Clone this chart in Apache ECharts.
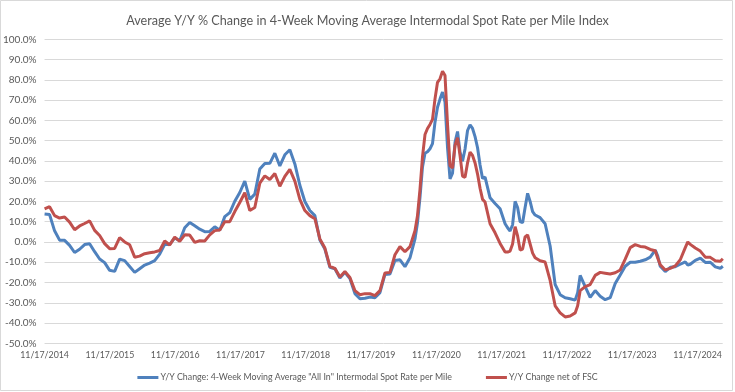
<!DOCTYPE html>
<html><head><meta charset="utf-8">
<script src="https://cdn.jsdelivr.net/npm/echarts@6/dist/echarts.min.js"></script>
<style>html,body{margin:0;padding:0;background:#fff}#c{width:735px;height:392px}</style>
</head><body><div id="c"></div>
<script>
const chartTitle = 'Average Y/Y % Change in 4-Week Moving Average Intermodal Spot Rate per Mile Index';
const seriesNames = ['Y/Y Change: 4-Week Moving Average "All In" Intermodal Spot Rate per Mile', 'Y/Y Change net of FSC'];
const xTickLabels = ['11/17/2014','11/17/2015','11/17/2016','11/17/2017','11/17/2018','11/17/2019','11/17/2020','11/17/2021','11/17/2022','11/17/2023','11/17/2024'];
// weeks since 11/17/2014
const weeks = [0,4,8,12,16,20,24,28,32,36,40,44,48,52,56,60,64,68,72,76,80,84,88,92,96,100,104,108,112,116,120,124,128,132,136,140,144,148,152,156,160,164,168,172,176,180,184,188,192,196,200,204,208,212,216,220,224,228,232,236,240,244,248,252,256,260,264,268,272,276,280,284,288,292,296,298,300,302,304,306,308,310,312,314,316,318,320,322,324,326,328,330,332,334,336,338,340,342,344,346,348,350,352,356,360,364,368,370,372,374,376,378,380,382,384,386,388,390,392,396,400,404,408,412,416,420,424,426,428,432,436,440,444,448,452,456,460,464,468,472,476,480,484,488,490,492,496,500,504,508,512,514,516,520,524,528,532,536,540,542];
const allIn = [13.8,13.5,5.5,0.9,0.8,-1.7,-5.2,-3.6,-1.3,-0.9,-4.8,-8.4,-10.2,-14,-14.5,-8.5,-9.2,-12.1,-15,-13.2,-11.4,-10.4,-9.2,-6,-1.2,-1.2,2,0.6,7,9.6,8,6.3,5.1,5.2,7.5,5.8,12.5,14.5,20.1,24.4,30,21,23.6,36,38.7,38.8,43.8,37.5,43,45.5,38.5,28,20,15.5,13,1,-3.5,-12.5,-13.2,-17.8,-15,-18,-25.5,-28,-27.8,-27.2,-27.5,-25,-16,-15.8,-9.1,-8.8,-12.2,-7.8,1.5,9.5,22,37,43.8,44.5,46,48.5,59.1,66.5,70.5,74,69,46.5,31.1,34,49.2,54.5,44.3,39.8,45.9,55,57.8,56,52,46.5,38,31.3,32,21.8,19,16.4,9,7,5.4,8.5,20,17,10,9.5,17,24,20,15,13.3,12,9,-2,-21,-26,-27.5,-28,-28.7,-25,-16.5,-22,-27.3,-24,-26.8,-28.5,-27.5,-20.5,-16.3,-12,-10,-10,-9.5,-8.8,-7.5,-4,-7,-12,-14.6,-12.5,-12.2,-11,-9.8,-11.4,-11,-9.1,-8,-10.1,-10,-12.3,-13,-12];
const netFsc = [16.3,17.4,13,11.8,12.3,9.8,6,7.9,9.1,10.4,5.7,3.2,-0.8,-3.3,-3.2,2.1,0,-1.4,-7.5,-7,-5.8,-5.3,-4.9,-4.2,0.5,-1.5,2.4,0.3,3.5,3.4,-0.2,0.6,0.5,3.5,5.6,5.9,10,10,15,19.5,24.3,15.5,17,29,32.6,30.8,33.8,27.5,32.4,35.8,30,21,15.5,13,11.5,1.5,-3,-12,-13,-17.3,-14.6,-17.5,-24,-26,-25.5,-25.5,-26.5,-24,-15.3,-15,-6.3,-2.3,-4.8,-2.3,5.5,13,26,42,53,56,58,60.5,70.6,78.8,80.5,84.3,82.1,58,37.7,36.5,47.6,51.5,42.6,32.5,31.9,39,44.3,42.7,39,33.5,26.5,21,19.7,9,4.5,-0.7,-5,-5,-4.5,-1,7.5,3,-4,-3.5,2.5,3.5,-1,-5.5,-7.8,-9.3,-9.9,-19,-31.5,-35,-37,-36.5,-35,-31.5,-24,-22,-21,-16.5,-15,-15.4,-15.8,-15.2,-13.8,-8.5,-2.8,-1.3,-2.2,-2.5,-3.7,-4.3,-8,-11.2,-13.8,-13,-11.8,-8.8,-2.8,0,-1.2,-3,-4.5,-7.5,-7.6,-9.3,-9.5,-8.3];

const WEEKS_PER_YEAR = 365.25 / 7;
const X_MAX = 541.9 / WEEKS_PER_YEAR;
const toPts = vals => weeks.map((w, i) => [w / WEEKS_PER_YEAR, vals[i]]);
const FONT = 'Lato';
const TXT = '#595959';

const chart = echarts.init(document.getElementById('c'), null, {renderer: 'canvas'});
chart.setOption({
  animation: false,
  backgroundColor: '#fff',
  title: {
    text: chartTitle, left: 'center', top: 9,
    textStyle: {fontFamily: FONT, fontSize: 12.6, fontWeight: 'normal', color: TXT}
  },
  graphic: [{type: 'rect', shape: {x: 0.5, y: 0.5, width: 732, height: 390}, style: {fill: 'none', stroke: '#d9d9d9', lineWidth: 1}, silent: true}],
  grid: {left: 44.5, right: 12.3, top: 39.3, bottom: 48.7, containLabel: false},
  legend: {
    bottom: 5, left: 'center', itemGap: 34, itemWidth: 21, itemHeight: 3, icon: 'rect',
    textStyle: {fontFamily: FONT, fontSize: 8.8, color: TXT, padding: [0, 0, 0, -3]},
    data: seriesNames
  },
  xAxis: {
    type: 'value', min: 0, max: X_MAX, interval: 1,
    axisLine: {show: true, lineStyle: {color: '#d9d9d9'}},
    axisTick: {show: false},
    splitLine: {show: false},
    axisLabel: {
      margin: 7, color: TXT, fontFamily: FONT, fontSize: 8.8, showMaxLabel: false,
      formatter: v => { const r = Math.round(v); return Math.abs(v - r) < 1e-6 && xTickLabels[r] ? xTickLabels[r] : ''; }
    }
  },
  yAxis: {
    type: 'value', min: -50, max: 100, interval: 10,
    axisLine: {show: false}, axisTick: {show: false},
    splitLine: {lineStyle: {color: '#d9d9d9', width: 1}},
    axisLabel: {margin: 8, color: TXT, fontFamily: FONT, fontSize: 10, formatter: v => v.toFixed(1) + '%'}
  },
  series: [
    {name: seriesNames[0], type: 'line', data: toPts(allIn), symbol: 'none', lineStyle: {color: '#4F81BD', width: 3}, itemStyle: {color: '#4F81BD'}},
    {name: seriesNames[1], type: 'line', data: toPts(netFsc), symbol: 'none', lineStyle: {color: '#C0504D', width: 3}, itemStyle: {color: '#C0504D'}}
  ]
});
</script></body></html>
